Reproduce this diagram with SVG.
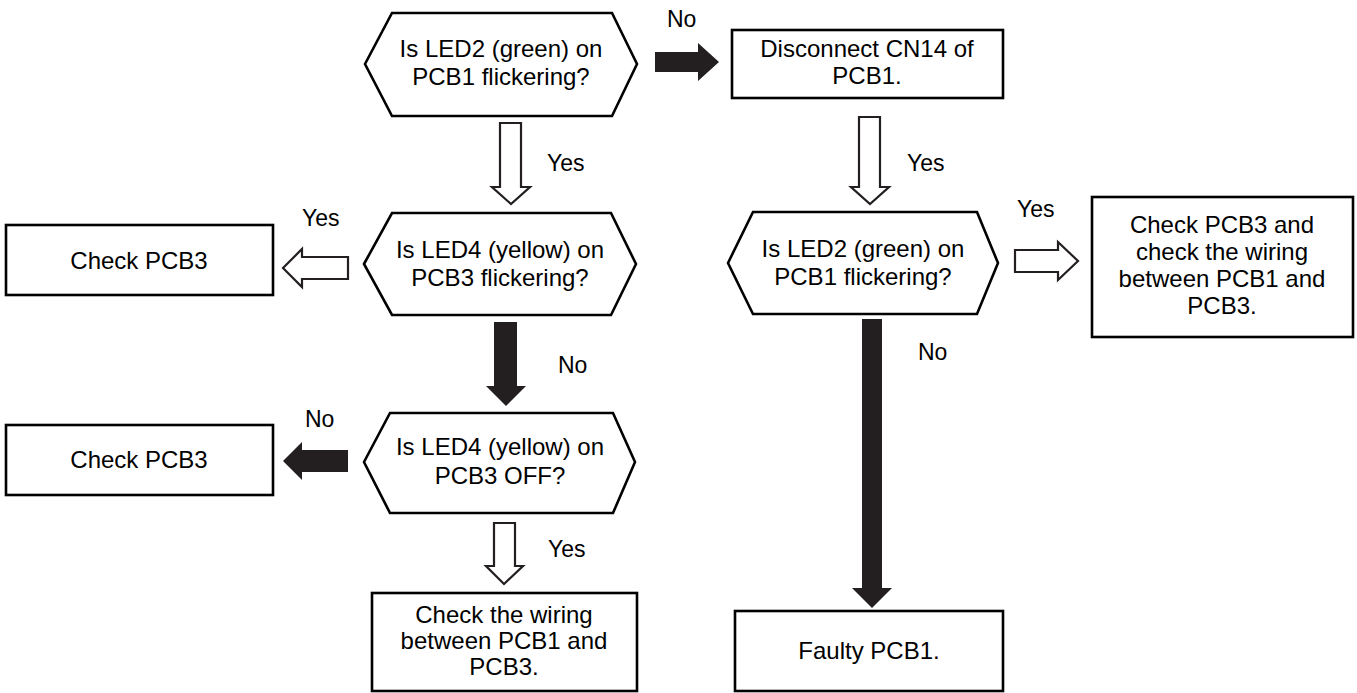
<svg xmlns="http://www.w3.org/2000/svg" width="1357" height="693" viewBox="0 0 1357 693">
<style>
.shape{fill:#fff;stroke:#000;stroke-width:2.6;stroke-linejoin:miter}
.t{font-family:"Liberation Sans",Arial,sans-serif;font-size:24px;fill:#000;text-anchor:middle}
.lbl{font-family:"Liberation Sans",Arial,sans-serif;font-size:23px;fill:#000}
.hollow{fill:#fff;stroke:#231f20;stroke-width:2.2;stroke-linejoin:miter}
.solid{fill:#231f20;stroke:none}
</style>
<rect width="1357" height="693" fill="#fff"/>
<g id="connectors">
  <polygon class="solid" points="655,52 698,52 698,43 719,62 698,81 698,72 655,72"/>
  <text class="lbl" x="667" y="27">No</text>
  <polygon class="hollow" points="500,123 521,123 521,187 530,187 511,204 492,187 500,187"/>
  <text class="lbl" x="547" y="171">Yes</text>
  <polygon class="hollow" points="859,117 880,117 880,187 889,187 870,204 851,187 859,187"/>
  <text class="lbl" x="907" y="171">Yes</text>
  <polygon class="hollow" points="348,257 348,279 302,279 302,287 283,268 302,249 302,257"/>
  <text class="lbl" x="302" y="226">Yes</text>
  <polygon class="hollow" points="1015,250 1058,250 1058,242 1078,261 1058,280 1058,272 1015,272"/>
  <text class="lbl" x="1017" y="217">Yes</text>
  <polygon class="solid" points="494,322 517,322 517,386 526,386 506,406 486,386 494,386"/>
  <text class="lbl" x="558" y="373">No</text>
  <polygon class="solid" points="348,450 348,472 302,472 302,480 283,461 302,442 302,450"/>
  <text class="lbl" x="305" y="427">No</text>
  <polygon class="hollow" points="494,523 515,523 515,566 523,566 504,584 486,566 494,566"/>
  <text class="lbl" x="548" y="557">Yes</text>
  <polygon class="solid" points="862,319 882,319 882,588 892,588 872,608 852,588 862,588"/>
  <text class="lbl" x="918" y="360">No</text>
</g>
<g id="q1">
  <polygon class="shape" points="365,64 392,13 612,13 637,64 612,116 392,116"/>
  <text class="t" x="501" y="57">Is LED2 (green) on</text>
  <text class="t" x="501" y="85">PCB1 flickering?</text>
</g>
<g id="disconnect">
  <rect class="shape" x="732" y="30" width="271" height="68"/>
  <text class="t" x="867" y="57">Disconnect CN14 of</text>
  <text class="t" x="867" y="84">PCB1.</text>
</g>
<g id="q2">
  <polygon class="shape" points="364,264 392,213 611,213 636,264 611,315 392,315"/>
  <text class="t" x="500" y="258">Is LED4 (yellow) on</text>
  <text class="t" x="500" y="286">PCB3 flickering?</text>
</g>
<g id="q4">
  <polygon class="shape" points="728,263 753,212 977,212 998,263 977,314 753,314"/>
  <text class="t" x="863" y="257">Is LED2 (green) on</text>
  <text class="t" x="863" y="285">PCB1 flickering?</text>
</g>
<g id="check1">
  <rect class="shape" x="6" y="225" width="267" height="70"/>
  <text class="t" x="139" y="269">Check PCB3</text>
</g>
<g id="checkwiring2">
  <rect class="shape" x="1092" y="197" width="261" height="140"/>
  <text class="t" x="1222" y="233">Check PCB3 and</text>
  <text class="t" x="1222" y="260">check the wiring</text>
  <text class="t" x="1222" y="287">between PCB1 and</text>
  <text class="t" x="1222" y="314">PCB3.</text>
</g>
<g id="q3">
  <polygon class="shape" points="364,462 390,413 613,413 635,462 613,513 390,513"/>
  <text class="t" x="500" y="455">Is LED4 (yellow) on</text>
  <text class="t" x="500" y="484">PCB3 OFF?</text>
</g>
<g id="check2">
  <rect class="shape" x="6" y="425" width="267" height="70"/>
  <text class="t" x="139" y="468">Check PCB3</text>
</g>
<g id="checkwiring">
  <rect class="shape" x="372" y="593" width="265" height="98"/>
  <text class="t" x="504" y="623">Check the wiring</text>
  <text class="t" x="504" y="649">between PCB1 and</text>
  <text class="t" x="504" y="675">PCB3.</text>
</g>
<g id="faulty">
  <rect class="shape" x="735" y="611" width="268" height="80"/>
  <text class="t" x="869" y="659">Faulty PCB1.</text>
</g>
</svg>
